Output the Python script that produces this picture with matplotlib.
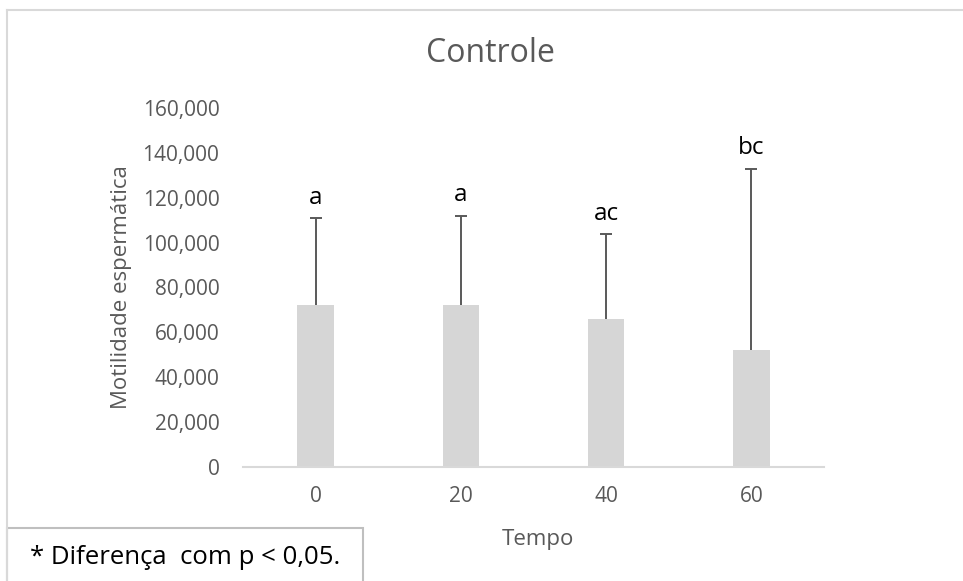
import matplotlib
matplotlib.use("Agg")
import matplotlib.pyplot as plt
from matplotlib.lines import Line2D
from matplotlib.patches import Rectangle
from matplotlib.ticker import FuncFormatter

plt.rcParams['font.family'] = ['Open Sans', 'DejaVu Sans']

categories = ["0", "20", "40", "60"]
means = [72000, 72000, 66000, 52000]
err_upper = [39000, 40000, 37700, 81000]
letters = ["a", "a", "ac", "bc"]
y_ticks = [0, 20000, 40000, 60000, 80000, 100000, 120000, 140000, 160000]

W, H = 963, 581
fig = plt.figure(figsize=(W / 100, H / 100), dpi=100)
ax = fig.add_axes([243 / W, 1 - 467 / H, (824 - 243) / W, (467 - 108) / H])

x = list(range(len(categories)))
ax.bar(x, means, width=0.25, color="#d6d6d6", zorder=2)
eb = ax.errorbar(x, means, yerr=[[0] * len(means), err_upper], fmt="none",
                 ecolor="#595959", elinewidth=1.4, capsize=4.5, capthick=1.4, zorder=3)
# hide the lower caps (only upper error shown)
caplines = eb[1]
if len(caplines) == 2:
    caplines[0].set_visible(False)

for xi, m, e, lab in zip(x, means, err_upper, letters):
    ax.annotate(lab, (xi, m + e), xytext=(0, 6), textcoords="offset points",
                ha="center", va="bottom", fontsize=17.5, color="black")

ax.set_xlim(-0.5, len(categories) - 0.5)
ax.set_ylim(0, 160000)
ax.set_xticks(x)
ax.set_xticklabels(categories)
ax.set_yticks(y_ticks)
ax.yaxis.set_major_formatter(FuncFormatter(lambda v, p: f"{int(v):,}"))
ax.tick_params(axis="both", length=0, labelsize=15, labelcolor="#595959")
ax.tick_params(axis="y", pad=17)
ax.tick_params(axis="x", pad=14)
for s in ["top", "right", "left"]:
    ax.spines[s].set_visible(False)
ax.spines["bottom"].set_color("#d9d9d9")
ax.spines["bottom"].set_linewidth(1.5)

fig.text(490 / W, 1 - 53 / H, "Controle", ha="center", va="center",
         fontsize=23, color="#595959")
fig.text(122 / W, 1 - 287 / H, "Motilidade espermática", ha="center", va="center",
         rotation=90, fontsize=16, color="#595959")
fig.text(538 / W, 1 - 540 / H, "Tempo", ha="center", va="center",
         fontsize=16, color="#595959")

# chart area border
fig.add_artist(Line2D([7 / W, 1.0], [1 - 10 / H, 1 - 10 / H], transform=fig.transFigure,
                      color="#d9d9d9", linewidth=1.5))
fig.add_artist(Line2D([7 / W, 7 / W], [0, 1 - 10 / H], transform=fig.transFigure,
                      color="#d9d9d9", linewidth=1.5))

# note box
fig.add_artist(Rectangle((7 / W, -0.01), (363 - 7) / W, (1 - 528 / H) + 0.01,
                         transform=fig.transFigure, facecolor="white",
                         edgecolor="#bfbfbf", linewidth=1.5))
fig.text(30 / W, 1 - 557 / H, "* Diferença  com p < 0,05.", ha="left", va="center",
         fontsize=18.5, color="black")

fig.savefig("out.png", dpi=100)
